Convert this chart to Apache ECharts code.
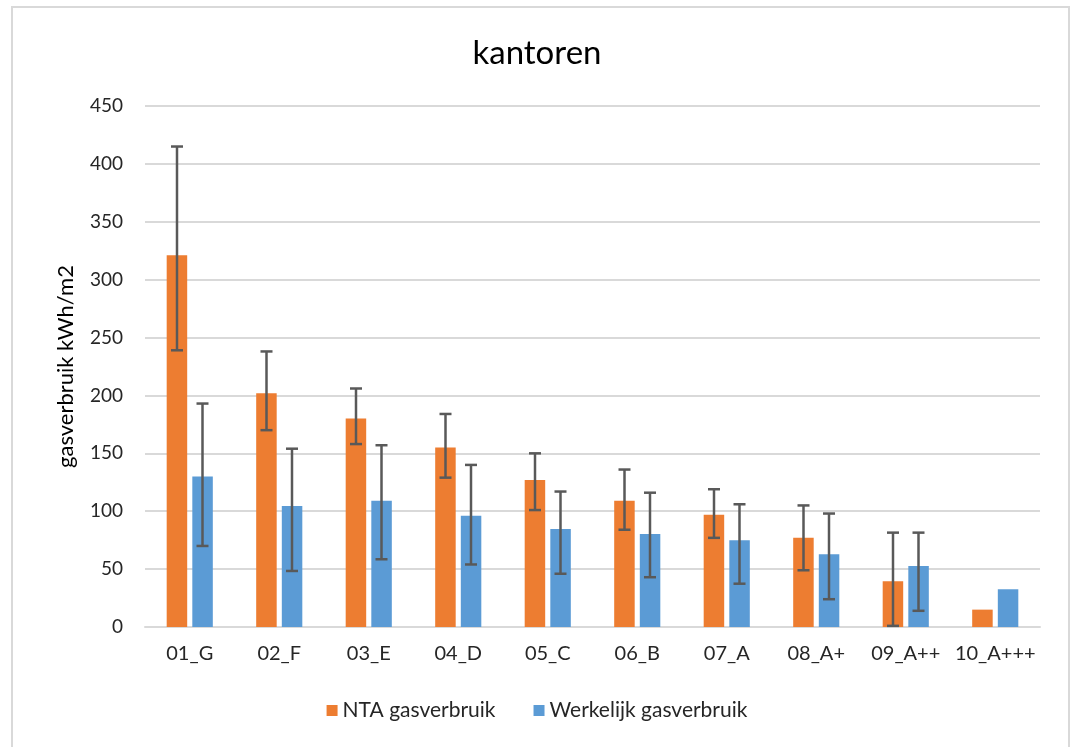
<!DOCTYPE html>
<html>
<head>
<meta charset="utf-8">
<script src="https://cdn.jsdelivr.net/npm/echarts@6/dist/echarts.min.js"></script>
<style>
html,body{margin:0;padding:0;background:#fff;}
#c{width:1074px;height:747px;}
</style>
</head>
<body>
<div id="c"></div>
<script>
var categories = ['01_G','02_F','03_E','04_D','05_C','06_B','07_A','08_A+','09_A++','10_A+++'];
var ntaValues  = [321, 202, 180, 155, 127, 109, 97, 77, 39.5, 15];
var ntaLow     = [239, 170, 158, 129, 101, 84, 77, 49, 1, null];
var ntaHigh    = [415, 238, 206, 184, 150, 136, 119, 105, 81.5, null];
var werkValues = [130, 104.5, 109, 96, 84.6, 80.3, 75, 62.8, 52.7, 32.6];
var werkLow    = [70, 48.4, 58.5, 54, 46, 43, 37.4, 24, 14, null];
var werkHigh   = [193, 154, 157, 140, 117, 116, 106, 98, 81.5, null];
var yTicks = [0, 50, 100, 150, 200, 250, 300, 350, 400, 450];

var FONT = 'Lato, "Open Sans", sans-serif';
var BAR_W = 20.5;
var OFFSET = 12.75;

function errSeries(name, low, high, sign) {
  var data = categories.map(function (c, i) {
    return [i, low[i], high[i]];
  }).filter(function (d) { return d[1] != null && d[2] != null; });
  return {
    type: 'custom',
    name: name,
    silent: true,
    z: 10,
    data: data,
    encode: { x: 0, y: [1, 2] },
    renderItem: function (params, api) {
      var i = api.value(0);
      var lo = api.coord([i, api.value(1)]);
      var hi = api.coord([i, api.value(2)]);
      var x = lo[0] + sign * OFFSET;
      var cap = 6;
      var style = { stroke: '#595959', lineWidth: 2.5, fill: null };
      return {
        type: 'group',
        children: [
          { type: 'line', shape: { x1: x, y1: hi[1], x2: x, y2: lo[1] }, style: style },
          { type: 'line', shape: { x1: x - cap, y1: hi[1], x2: x + cap, y2: hi[1] }, style: style },
          { type: 'line', shape: { x1: x - cap, y1: lo[1], x2: x + cap, y2: lo[1] }, style: style }
        ]
      };
    }
  };
}

var chart = echarts.init(document.getElementById('c'), null, { renderer: 'canvas' });
chart.setOption({
  backgroundColor: '#fff',
  animation: false,
  graphic: [{
    type: 'rect',
    shape: { x: 12, y: 7, width: 1057, height: 760 },
    style: { fill: null, stroke: '#d9d9d9', lineWidth: 2 },
    silent: true
  }],
  title: {
    text: 'kantoren',
    left: 'center',
    top: 32,
    textStyle: { fontFamily: FONT, fontSize: 33, fontWeight: 'normal', color: '#000' }
  },
  legend: {
    bottom: 21,
    left: 'center',
    itemWidth: 11,
    itemHeight: 11,
    itemGap: 38,
    icon: 'rect',
    data: ['NTA gasverbruik', 'Werkelijk gasverbruik'],
    textStyle: { fontFamily: FONT, fontSize: 21, color: '#262626' }
  },
  grid: { left: 145, right: 34, top: 106, bottom: 120 },
  xAxis: {
    type: 'category',
    data: categories,
    axisLine: { lineStyle: { color: '#d9d9d9', width: 2 } },
    axisTick: { show: false },
    axisLabel: { interval: 0, hideOverlap: false, fontFamily: FONT, fontSize: 20, color: '#262626', margin: 17 }
  },
  yAxis: {
    type: 'value',
    min: 0,
    max: 450,
    interval: 50,
    name: 'gasverbruik kWh/m2',
    nameLocation: 'middle',
    nameGap: 68,
    nameTextStyle: { fontFamily: FONT, fontSize: 22, color: '#000' },
    axisLine: { show: false },
    axisTick: { show: false },
    axisLabel: {
      fontFamily: FONT, fontSize: 19, color: '#262626', margin: 22,
      formatter: function (v) { return yTicks.indexOf(v) >= 0 ? String(v) : ''; }
    },
    splitLine: { lineStyle: { color: '#d9d9d9', width: 2 } }
  },
  series: [
    {
      name: 'NTA gasverbruik',
      type: 'bar',
      data: ntaValues,
      barWidth: BAR_W,
      barGap: '25%',
      itemStyle: { color: '#ed7d31' }
    },
    {
      name: 'Werkelijk gasverbruik',
      type: 'bar',
      data: werkValues,
      barWidth: BAR_W,
      barGap: '25%',
      itemStyle: { color: '#5b9bd5' }
    },
    errSeries('nta-err', ntaLow, ntaHigh, -1),
    errSeries('werk-err', werkLow, werkHigh, 1)
  ]
});
</script>
</body>
</html>
